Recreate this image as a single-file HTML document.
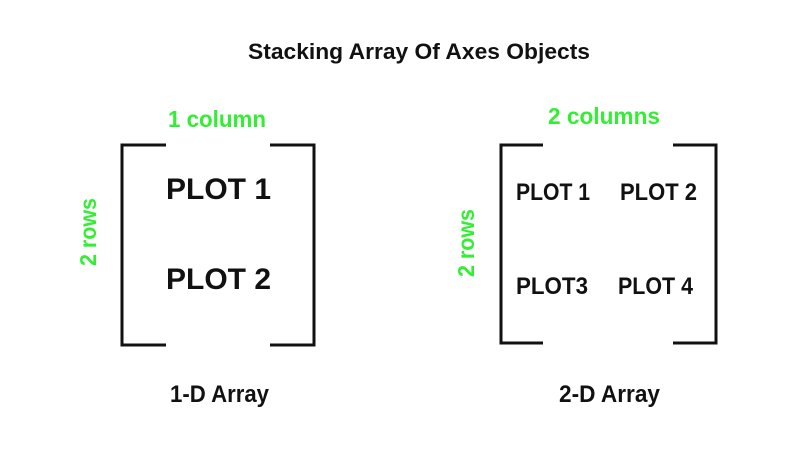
<!DOCTYPE html>
<html><head><style>html,body{margin:0;padding:0;background:#fff;}</style></head>
<body>
<svg width="800" height="455" xmlns="http://www.w3.org/2000/svg" font-family="Liberation Sans, sans-serif" font-weight="bold">
<rect width="800" height="455" fill="#fff"/>
<text x="248" y="59" font-size="22" fill="#111" textLength="342" lengthAdjust="spacingAndGlyphs">Stacking  Array Of Axes Objects</text>
<g stroke="#111" stroke-width="3" fill="none">
<polyline points="166,145 122,145 122,345 166,345"/>
<polyline points="270,145 314,145 314,345 270,345"/>
<polyline points="543,145 501,145 501,343 543,343"/>
<polyline points="673,145 716,145 716,343 673,343"/>
</g>
<text x="168" y="127" font-size="23" fill="#33ee33" textLength="98" lengthAdjust="spacingAndGlyphs">1 column</text>
<text x="548" y="124" font-size="23" fill="#33ee33" textLength="112" lengthAdjust="spacingAndGlyphs">2 columns</text>
<text transform="translate(96,232) rotate(-90)" text-anchor="middle" font-size="23" fill="#33ee33" textLength="68" lengthAdjust="spacingAndGlyphs">2 rows</text>
<text transform="translate(474,243) rotate(-90)" text-anchor="middle" font-size="23" fill="#33ee33" textLength="68" lengthAdjust="spacingAndGlyphs">2 rows</text>
<g fill="#111" font-size="30">
<text x="166" y="199" textLength="105" lengthAdjust="spacingAndGlyphs">PLOT  1</text>
<text x="166" y="289" textLength="105" lengthAdjust="spacingAndGlyphs">PLOT  2</text>
</g>
<g fill="#111" font-size="24">
<text x="516" y="200" textLength="74" lengthAdjust="spacingAndGlyphs">PLOT 1</text>
<text x="620" y="200" textLength="77" lengthAdjust="spacingAndGlyphs">PLOT 2</text>
<text x="516" y="294" textLength="72" lengthAdjust="spacingAndGlyphs">PLOT3</text>
<text x="618" y="294" textLength="75" lengthAdjust="spacingAndGlyphs">PLOT 4</text>
<text x="170" y="402" font-size="24" textLength="99" lengthAdjust="spacingAndGlyphs">1-D Array</text>
<text x="559" y="402" font-size="24" textLength="101" lengthAdjust="spacingAndGlyphs">2-D Array</text>
</g>
</svg>
</body></html>
